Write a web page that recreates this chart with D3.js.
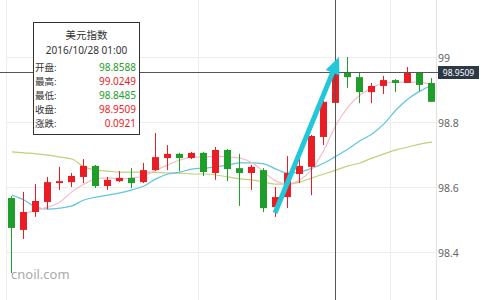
<!DOCTYPE html>
<html><head><meta charset="utf-8">
<script src="https://cdn.jsdelivr.net/npm/d3@7"></script>
<style>body{margin:0;background:#fff;}svg{display:block;font-family:"Noto Sans","Noto Sans CJK SC",sans-serif;}</style>
</head><body>
<svg id="c" width="484" height="300"></svg>
<script>
const times = ["10/26 22:00","10/26 23:00","10/27 00:00","10/27 01:00","10/27 02:00","10/27 03:00","10/27 04:00","10/27 05:00","10/27 06:00","10/27 07:00",
"10/27 08:00","10/27 09:00","10/27 10:00","10/27 11:00","10/27 12:00","10/27 13:00","10/27 14:00","10/27 15:00","10/27 16:00","10/27 17:00",
"10/27 18:00","10/27 19:00","10/27 20:00","10/27 21:00","10/27 22:00","10/27 23:00","10/28 00:00","10/28 01:00","10/28 02:00","10/28 03:00",
"10/28 04:00","10/28 05:00","10/28 06:00","10/28 07:00","10/28 08:00","10/28 09:00"];
const open  = [98.566,98.468,98.523,98.554,98.612,98.615,98.631,98.665,98.603,98.618,98.628,98.615,98.652,98.689,98.702,98.689,98.705,98.643,98.714,98.658,98.643,98.652,98.538,98.569,98.640,98.662,98.754,98.8588,98.954,98.938,98.892,98.911,98.929,98.920,98.951,98.920];
const high  = [98.572,98.585,98.609,98.631,98.662,98.643,98.686,98.668,98.631,98.649,98.658,98.674,98.766,98.729,98.705,98.708,98.708,98.723,98.717,98.702,98.668,98.658,98.600,98.695,98.720,98.760,98.880,99.0249,99.000,98.954,98.920,98.942,98.932,98.969,98.954,98.935];
const low   = [98.335,98.440,98.508,98.532,98.591,98.600,98.612,98.597,98.591,98.615,98.597,98.612,98.649,98.652,98.649,98.686,98.634,98.622,98.618,98.542,98.591,98.523,98.508,98.535,98.612,98.575,98.729,98.8485,98.905,98.858,98.858,98.886,98.892,98.920,98.895,98.862];
const close = [98.474,98.523,98.557,98.615,98.618,98.634,98.665,98.603,98.622,98.628,98.612,98.652,98.692,98.702,98.689,98.705,98.646,98.714,98.655,98.643,98.662,98.535,98.569,98.643,98.665,98.757,98.862,98.9509,98.938,98.892,98.911,98.929,98.920,98.951,98.914,98.862];
const ma5   = [null,98.517,98.529,98.538,98.554,98.585,98.609,98.625,98.628,98.625,98.628,98.634,98.652,98.668,98.683,98.692,98.692,98.695,98.692,98.689,98.675,98.646,98.618,98.609,98.622,98.655,98.714,98.791,98.846,98.883,98.905,98.920,98.923,98.923,98.923,98.914];
const ma10  = [98.575,98.560,98.538,98.532,98.535,98.542,98.560,98.569,98.575,98.582,98.591,98.603,98.625,98.640,98.646,98.655,98.658,98.662,98.668,98.674,98.674,98.671,98.655,98.643,98.646,98.658,98.674,98.695,98.717,98.742,98.763,98.794,98.837,98.871,98.895,98.914];
const ma30  = [98.708,98.705,98.702,98.698,98.692,98.686,98.662,98.652,98.649,98.646,98.646,98.646,98.645,98.643,98.643,98.640,98.640,98.637,98.631,98.625,98.622,98.615,98.609,98.609,98.615,98.628,98.640,98.652,98.665,98.674,98.689,98.702,98.714,98.723,98.732,98.738];
const yTicks = [98.4, 98.6, 98.8, 99];
const selIndex = 27;
const title = "美元指数";
const selDate = "2016/10/28 01:00";
const rowLabels = ["开盘:","最高:","最低:","收盘:","涨跌:"];

const RED = "#ea1c24", GREEN = "#1f9e2a";
const svg = d3.select("#c");
const x = d3.scaleBand().domain(times).range([6, 438]);
const cx = t => x(t) + x.bandwidth() / 2;
const y = d3.scaleLinear().domain([98.4, 99]).range([252, 57]);

// grid
const vGrid = [times[0], times[16], times[32]];
svg.append("g").selectAll("line").data(vGrid).join("line")
  .attr("x1", d => Math.round(x(d)) + 0.5).attr("x2", d => Math.round(x(d)) + 0.5)
  .attr("y1", 0).attr("y2", 300).attr("stroke", "#ededed");
svg.append("g").selectAll("line").data(yTicks).join("line")
  .attr("x1", 6).attr("x2", 436).attr("y1", d => Math.round(y(d)) + 0.5).attr("y2", d => Math.round(y(d)) + 0.5)
  .attr("stroke", "#ededed");
svg.append("line").attr("x1", 436.5).attr("x2", 436.5).attr("y1", 0).attr("y2", 300).attr("stroke", "#e2e2e2");

// axis labels
const axis = d3.axisRight(y).tickValues(yTicks).tickSize(0).tickPadding(2).tickFormat(d3.format("~g"));
const ag = svg.append("g").attr("transform", "translate(436,1)").call(axis);
ag.select(".domain").remove();
ag.selectAll("text").attr("fill", "#666").style("font-size", "10.5px").style("font-family", "Noto Sans");

// watermark
svg.append("text").attr("x", 11).attr("y", 279).text("cnoil.com")
  .attr("fill", "#aaa").style("font-size", "13px");

// MA lines
function maLine(arr, color) {
  const line = d3.line().defined(d => d != null).x((d, i) => cx(times[i])).y(d => y(d)).curve(d3.curveMonotoneX);
  svg.append("path").datum(arr).attr("d", line).attr("fill", "none").attr("stroke", color).attr("stroke-width", 1.2);
}
maLine(ma30, "#bfd17a");
maLine(ma10, "#62c5dc");
maLine(ma5, "#f7bccb");

// candles
const candles = svg.append("g").selectAll("g").data(times).join("g");
const col = (d, i) => close[i] >= open[i] ? RED : GREEN;
candles.append("line")
  .attr("x1", (d) => cx(d) - 0.5).attr("x2", (d) => cx(d) - 0.5)
  .attr("y1", (d, i) => y(high[i])).attr("y2", (d, i) => y(low[i]))
  .attr("stroke", col).attr("stroke-width", 1);
candles.append("rect")
  .attr("x", d => cx(d) - 4).attr("width", 7)
  .attr("y", (d, i) => y(Math.max(open[i], close[i])))
  .attr("height", (d, i) => Math.max(1, Math.abs(y(open[i]) - y(close[i]))))
  .attr("fill", col);

// crosshair
const selX = Math.round(cx(times[selIndex])) - 0.5;
const selY = Math.round(y(close[selIndex])) - 0.5;
svg.append("line").attr("x1", selX).attr("x2", selX).attr("y1", 0).attr("y2", 300).attr("stroke", "#555");
svg.append("line").attr("x1", 0).attr("x2", 438).attr("y1", selY).attr("y2", selY).attr("stroke", "#555");
svg.append("rect").attr("x", 438).attr("y", selY - 6.5).attr("width", 41).attr("height", 13).attr("fill", "#2d3847");
svg.append("text").attr("x", 458.5).attr("y", selY + 3.2).attr("text-anchor", "middle")
  .attr("fill", "#fff").style("font-size", "8.5px").text(close[selIndex].toFixed(4));

// arrow annotation
const ax0 = cx(times[22]) - 1, ay0 = y(98.52), ax1 = cx(times[selIndex]) + 3, ay1 = y(99.0);
const ang = Math.atan2(ay1 - ay0, ax1 - ax0);
const headLen = 17, headW = 7.5;
const bx = ax1 - headLen * Math.cos(ang), by = ay1 - headLen * Math.sin(ang);
svg.append("line").attr("x1", ax0).attr("y1", ay0).attr("x2", bx + 2 * Math.cos(ang)).attr("y2", by + 2 * Math.sin(ang))
  .attr("stroke", "#22c7da").attr("stroke-width", 5);
const px = -Math.sin(ang), py = Math.cos(ang);
svg.append("path").attr("d", `M${ax1},${ay1}L${bx + px * headW},${by + py * headW}L${bx - px * headW},${by - py * headW}Z`)
  .attr("fill", "#22c7da");

// tooltip
const tip = svg.append("g");
tip.append("rect").attr("x", 33.5).attr("y", 22.5).attr("width", 106).attr("height", 112)
  .attr("fill", "#fff").attr("stroke", "#333");
tip.append("text").attr("x", 86.5).attr("y", 39).attr("text-anchor", "middle").attr("fill", "#333")
  .style("font-size", "10.5px").text(title);
tip.append("text").attr("x", 86.5).attr("y", 54).attr("text-anchor", "middle").attr("fill", "#333")
  .style("font-size", "10px").text(selDate);
const prevClose = close[selIndex - 1];
const chg = close[selIndex] - open[selIndex];
const vals = [open[selIndex], high[selIndex], low[selIndex], close[selIndex], chg];
const vCol = [
  open[selIndex] >= prevClose ? RED : GREEN,
  high[selIndex] >= prevClose ? RED : GREEN,
  low[selIndex] >= prevClose ? RED : GREEN,
  close[selIndex] >= prevClose ? RED : GREEN,
  chg >= 0 ? RED : GREEN];
rowLabels.forEach((lab, i) => {
  const ry = 71 + i * 14;
  tip.append("text").attr("x", 35).attr("y", ry).attr("fill", "#333").style("font-size", "9.5px").text(lab);
  tip.append("text").attr("x", 136).attr("y", ry).attr("text-anchor", "end").attr("fill", vCol[i])
    .style("font-size", "10px").text(vals[i].toFixed(4));
});
</script>
</body></html>
